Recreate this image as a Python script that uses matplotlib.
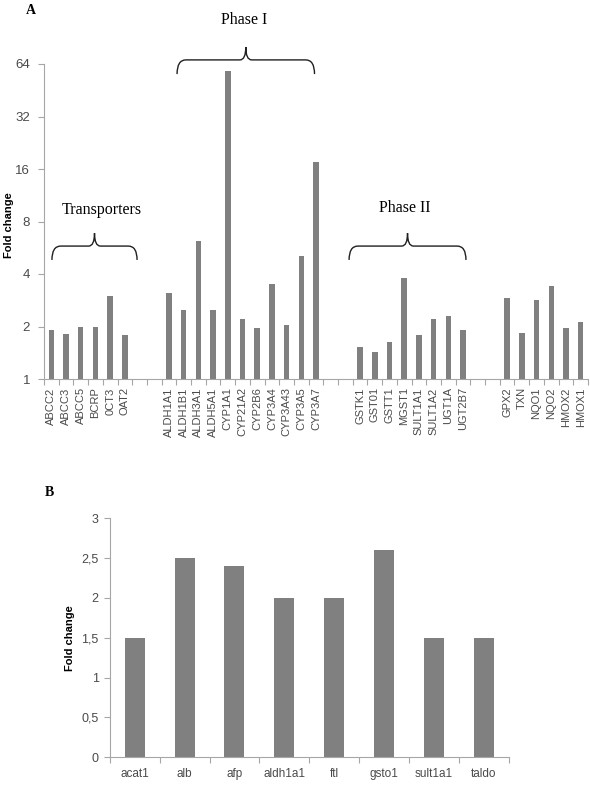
import numpy as np
import matplotlib
matplotlib.use('Agg')
from matplotlib import pyplot as plt
from matplotlib.path import Path
from matplotlib.patches import PathPatch
import matplotlib.transforms as mtransforms

# panel A data
transporters = ['ABCC2', 'ABCC3', 'ABCC5', 'BCRP', '0CT3', 'OAT2']
transporters_fc = [1.9, 1.8, 2.0, 2.0, 3.0, 1.78]
phase1 = ['ALDH1A1', 'ALDH1B1', 'ALDH3A1', 'ALDH5A1', 'CYP1A1', 'CYP21A2',
          'CYP2B6', 'CYP3A4', 'CYP3A43', 'CYP3A5', 'CYP3A7']
phase1_fc = [3.1, 2.5, 6.2, 2.5, 58, 2.2, 1.95, 3.5, 2.05, 5.1, 17.5]
phase2 = ['GSTK1', 'GST01', 'GSTT1', 'MGST1', 'SULT1A1', 'SULT1A2', 'UGT1A', 'UGT2B7']
phase2_fc = [1.52, 1.42, 1.62, 3.8, 1.78, 2.2, 2.3, 1.9]
others = ['GPX2', 'TXN', 'NQO1', 'NQO2', 'HMOX2', 'HMOX1']
others_fc = [2.9, 1.84, 2.84, 3.4, 1.97, 2.12]
log_ticks = [1, 2, 4, 8, 16, 32, 64]

# panel B data
genes_b = ['acat1', 'alb', 'afp', 'aldh1a1', 'ftl', 'gsto1', 'sult1a1', 'taldo']
fc_b = [1.5, 2.5, 2.4, 2.0, 2.0, 2.6, 1.5, 1.5]
ticks_b = [0, 0.5, 1, 1.5, 2, 2.5, 3]

bar_col = '#808080'
spine_col = '#a6a6a6'
txt_col = '#4a4a4a'
sans = ['Liberation Sans', 'DejaVu Sans']
serif = ['Liberation Serif', 'DejaVu Serif']

fig = plt.figure(figsize=(5.9, 7.85), dpi=100)

# ---------- panel A ----------
axA = fig.add_axes([44/590, 1-379/785, 544/590, 315/785])
groups = [transporters, phase1, phase2, others]
values = [transporters_fc, phase1_fc, phase2_fc, others_fc]
gap = 2
xs, labels, vals = [], [], []
pos = 0
for names, v in zip(groups, values):
    for n, f in zip(names, v):
        xs.append(pos)
        labels.append(n)
        vals.append(f)
        pos += 1
    pos += gap
nslots = pos - gap

axA.set_yscale('log', base=2)
axA.bar(xs, np.array(vals) - 1, bottom=1, width=0.37, color=bar_col)
axA.set_ylim(1, 64)
axA.set_xlim(-0.5, nslots - 0.5)
axA.set_yticks(log_ticks)
axA.set_yticklabels([str(t) for t in log_ticks])
axA.yaxis.set_minor_locator(matplotlib.ticker.NullLocator())
axA.set_xticks(np.arange(-0.5, nslots, 1.0))
axA.set_xticklabels([])
axA.set_xticks(xs, minor=True)
axA.set_xticklabels(labels, minor=True, rotation=90, fontsize=8,
                    color=txt_col, family=sans, va='top')
axA.tick_params(axis='x', which='major', length=4, color=spine_col)
axA.tick_params(axis='x', which='minor', length=0, pad=6)
axA.tick_params(axis='y', length=4, color=spine_col, labelcolor=txt_col,
                labelsize=9.5, pad=6)
for lab in axA.get_yticklabels():
    lab.set_family(sans)
for s in ['top', 'right']:
    axA.spines[s].set_visible(False)
for s in ['left', 'bottom']:
    axA.spines[s].set_color(spine_col)
axA.set_ylabel('Fold change', fontsize=8, fontweight='bold', family=sans)
axA.yaxis.set_label_coords(-0.056, 0.49)

trans = mtransforms.blended_transform_factory(axA.transData, axA.transAxes)


def brace(ax, x0, x1, ytip, yflat, yend, r=0.6, rm=0.4):
    xm = (x0 + x1) / 2
    verts = [(x0, yend), (x0, yflat), (x0 + r, yflat),
             (xm - rm, yflat),
             (xm, yflat), (xm, ytip),
             (xm, yflat), (xm + rm, yflat),
             (x1 - r, yflat),
             (x1, yflat), (x1, yend)]
    codes = [Path.MOVETO, Path.CURVE3, Path.CURVE3,
             Path.LINETO,
             Path.CURVE3, Path.CURVE3,
             Path.CURVE3, Path.CURVE3,
             Path.LINETO,
             Path.CURVE3, Path.CURVE3]
    p = PathPatch(Path(verts, codes), transform=trans, fill=False,
                  lw=1.0, color='#202020', clip_on=False)
    ax.add_patch(p)


brace(axA, 0.04, 5.83, 0.463, 0.422, 0.378)
brace(axA, 8.55, 17.9, 1.054, 1.013, 0.968)
brace(axA, 20.25, 28.2, 0.463, 0.422, 0.378)
axA.text(3.45, 0.537, 'Transporters', transform=trans, ha='center',
         va='center', fontsize=11.5, family=serif)
axA.text(13.1, 1.14, 'Phase I', transform=trans, ha='center',
         va='center', fontsize=11.5, family=serif)
axA.text(24.06, 0.543, 'Phase II', transform=trans, ha='center',
         va='center', fontsize=11.5, family=serif)

fig.text(31/590, 1-10/785, 'A', ha='center', va='center', fontsize=10,
         fontweight='bold', family=serif)

# ---------- panel B ----------
axB = fig.add_axes([109.7/590, 1-757.3/785, 399.3/590, 239/785])
xb = np.arange(len(genes_b))
axB.bar(xb, fc_b, width=0.4, color=bar_col)
axB.set_ylim(0, 3)
axB.set_xlim(-0.5, len(genes_b) - 0.5)
axB.set_yticks(ticks_b)
axB.set_yticklabels([('%g' % t).replace('.', ',') for t in ticks_b])
axB.set_xticks(np.arange(-0.5, len(genes_b), 1.0))
axB.set_xticklabels([])
axB.set_xticks(xb, minor=True)
axB.set_xticklabels(genes_b, minor=True, fontsize=8.5, color=txt_col,
                    family=sans)
axB.tick_params(axis='x', which='major', length=4, color=spine_col)
axB.tick_params(axis='x', which='minor', length=0, pad=8)
axB.tick_params(axis='y', length=4, color=spine_col, labelcolor=txt_col,
                labelsize=9, pad=4)
for lab in axB.get_yticklabels():
    lab.set_family(sans)
for s in ['top', 'right']:
    axB.spines[s].set_visible(False)
for s in ['left', 'bottom']:
    axB.spines[s].set_color(spine_col)
axB.set_ylabel('Fold change', fontsize=8, fontweight='bold', family=sans)
axB.yaxis.set_label_coords(-0.087, 0.5)

fig.text(45/590, 1-492/785, 'B', ha='left', va='center', fontsize=10,
         fontweight='bold', family=serif)

fig.savefig('out.png', dpi=100)
